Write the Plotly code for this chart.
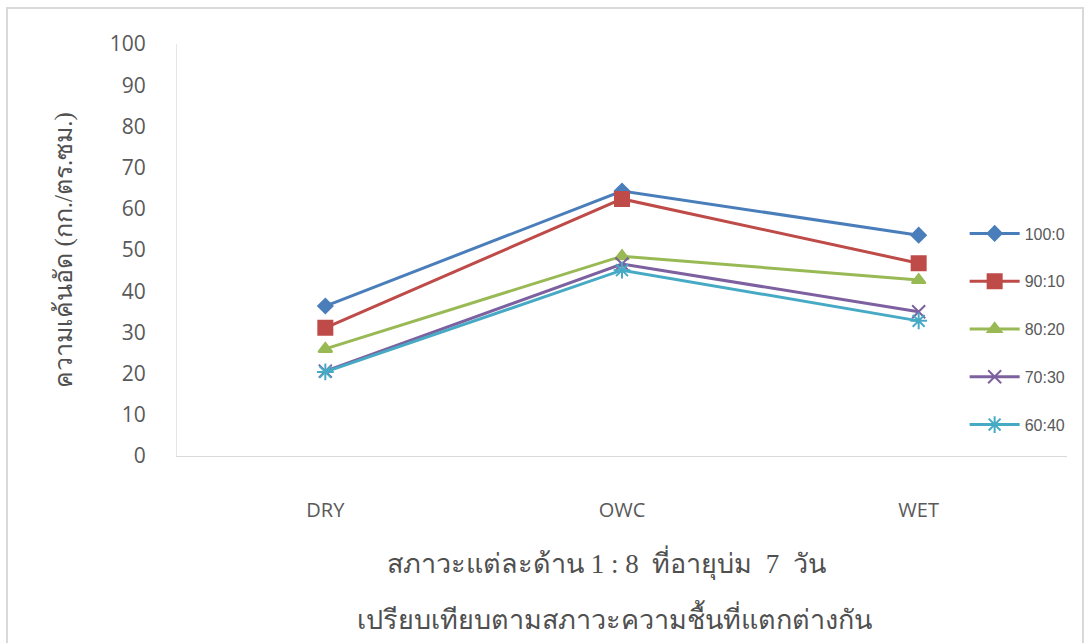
import plotly.graph_objects as go

categories = ["DRY", "OWC", "WET"]
series_names = ["100:0", "90:10", "80:20", "70:30", "60:40"]
s100_0 = [36.4, 64.3, 53.6]
s90_10 = [31.1, 62.4, 46.8]
s80_20 = [26.0, 48.5, 42.7]
s70_30 = [20.6, 46.6, 35.0]
s60_40 = [20.4, 45.1, 32.8]
y_ticks = [0, 10, 20, 30, 40, 50, 60, 70, 80, 90, 100]

y_title = "ความเค้นอัด (กก./ตร.ซม.)"
x_title_1 = "สภาวะแต่ละด้าน 1 : 8  ที่อายุบ่ม  7  วัน"
x_title_2 = "เปรียบเทียบตามสภาวะความชื้นที่แตกต่างกัน"

values = [s100_0, s90_10, s80_20, s70_30, s60_40]
colors = ["#4a7ebb", "#be4b48", "#98b954", "#7d60a0", "#46aac5"]
symbols = ["diamond", "square", "triangle-up", "x-thin", "asterisk"]
sizes = [11, 14, 12, 13, 14]

fig = go.Figure()
for i, (name, vals) in enumerate(zip(series_names, values)):
    fig.add_trace(go.Scatter(
        x=categories, y=vals, name=name, mode="lines+markers",
        legendgroup=name,
        line=dict(color=colors[i], width=3),
        marker=dict(symbol=symbols[i], size=sizes[i], color=colors[i],
                    line=dict(color=colors[i], width=2)),
    ))

fig.update_layout(
    width=1087, height=643,
    margin=dict(l=177, r=20, t=44, b=187),
    plot_bgcolor="white", paper_bgcolor="white",
    font=dict(family="Open Sans, Noto Sans, sans-serif", color="#595959"),
    showlegend=True,
    legend=dict(
        x=0.885, y=(456 - 329) / 412, xanchor="left", yanchor="middle",
        font=dict(size=16, color="#595959", family="Liberation Sans, Arial"),
        itemwidth=50, tracegroupgap=24, bgcolor="rgba(0,0,0,0)",
    ),
    xaxis=dict(
        type="category", range=[-0.5, 2.5],
        showgrid=False, showline=True, linecolor="#d9d9d9", linewidth=1,
        ticks="", tickfont=dict(size=20, color="#595959", family="Open Sans"),
        ticklabelstandoff=36,
    ),
    yaxis=dict(
        range=[0, 100], tickvals=y_ticks, showgrid=False,
        showline=True, linecolor="#e6e6e6", linewidth=1,
        ticks="", tickfont=dict(size=21, color="#595959", family="Open Sans"),
        ticklabelstandoff=26,
        title=dict(text=y_title, standoff=30,
                   font=dict(size=25, color="#505050", family="serif")),
    ),
    annotations=[
        dict(text=x_title_1, xref="paper", yref="paper", x=(606 - 177) / 890,
             y=(456 - 563) / 412, xanchor="center", yanchor="middle",
             showarrow=False, font=dict(size=27, color="#505050", family="serif")),
        dict(text=x_title_2, xref="paper", yref="paper", x=(614 - 177) / 890,
             y=(456 - 617) / 412, xanchor="center", yanchor="middle",
             showarrow=False, font=dict(size=27, color="#505050", family="serif")),
    ],
    shapes=[
        dict(type="rect", xref="paper", yref="paper",
             x0=(7 - 177) / 890, x1=(1083 - 177) / 890,
             y0=(456 - 660) / 412, y1=(456 - 8) / 412,
             line=dict(color="#d9d9d9", width=2), layer="below"),
    ],
)

fig.write_html("out.html")
